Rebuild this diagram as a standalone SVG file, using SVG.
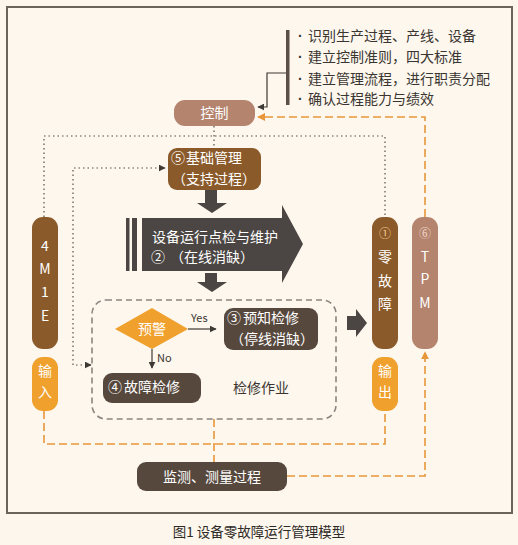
<svg xmlns="http://www.w3.org/2000/svg" width="518" height="545" viewBox="0 0 518 545">
<defs>
<style>
text{font-family:"Noto Sans CJK SC","Noto Sans",sans-serif;}
.w{fill:#ffffff;font-size:14px;}
.d{fill:#3a3530;font-size:14px;}
.bul{fill:#3a3530;font-size:14px;font-family:"Liberation Sans",Arial,sans-serif;font-weight:bold;}
.c{text-anchor:middle;}
.orng{fill:none;stroke:#e8963a;stroke-width:1.6;stroke-dasharray:8 4;}
.dot{fill:none;stroke:#555049;stroke-width:1.2;stroke-dasharray:1.5 3;}
.blk{fill:#4b4643;}
</style>
<marker id="ah" viewBox="0 0 10 10" refX="9" refY="5" markerWidth="7" markerHeight="7" orient="auto" markerUnits="userSpaceOnUse"><path d="M0,0 L10,5 L0,10 z" fill="#3d3935"/></marker>
<marker id="ao" viewBox="0 0 10 10" refX="9" refY="5" markerWidth="8" markerHeight="8" orient="auto" markerUnits="userSpaceOnUse"><path d="M0,0 L10,5 L0,10 z" fill="#e8963a"/></marker>
</defs>
<rect x="0" y="0" width="518" height="545" fill="#fcf6ec"/>
<rect x="7" y="7" width="505" height="506" fill="#fdf7ee" stroke="#6b645d" stroke-width="2"/>

<g id="connectors">
<polyline points="287,73 267,73 267,107 258,107" fill="none" stroke="#3d3935" stroke-width="1.2" marker-end="url(#ah)"/>
<polyline class="orng" points="425,217 425,117 258,117" marker-end="url(#ao)"/>
<line class="dot" x1="214" y1="126" x2="214" y2="148"/>
<polyline class="dot" points="44,217 44,136 385,136 385,217"/>
<polyline class="dot" points="91,365 73,365 73,168 165,168" marker-end="url(#ah)"/>
<line x1="73" y1="365" x2="91" y2="365" stroke="none" marker-end="url(#ah)"/>
<line x1="188" y1="329" x2="216" y2="329" stroke="#3d3935" stroke-width="1.2" marker-end="url(#ah)"/>
<line x1="152" y1="349" x2="152" y2="368" stroke="#3d3935" stroke-width="1.2" marker-end="url(#ah)"/>
<polyline class="orng" points="44,411 44,444 385,444 385,411"/>
<line class="orng" x1="214" y1="419" x2="214" y2="462"/>
<polyline class="orng" points="287,476 425,476 425,352" marker-end="url(#ao)"/>
<path class="blk" d="M205,190 H217 V203 H227 L212,213 L197,203 H205 Z"/>
<path class="blk" d="M205,273 H217 V282 H227 L212,292 L197,282 H205 Z"/>
<path class="blk" d="M347,316 H356 V309 L367,323 L356,337 V330 H347 Z"/>
<text x="191" y="322" fill="#3a3530" font-size="11">Yes</text>
<text x="157" y="362" fill="#3a3530" font-size="11">No</text>
</g>

<g id="list">
<rect x="286" y="30" width="3.5" height="75" fill="#5a5048"/>
<text class="bul" x="298" y="41">·</text>
<text class="d" x="308" y="41">识别生产过程、产线、设备</text>
<text class="bul" x="298" y="62">·</text>
<text class="d" x="308" y="62">建立控制准则，四大标准</text>
<text class="bul" x="298" y="84">·</text>
<text class="d" x="308" y="84">建立管理流程，进行职责分配</text>
<text class="bul" x="298" y="104">·</text>
<text class="d" x="308" y="104">确认过程能力与绩效</text>
</g>

<g id="control">
<rect x="174" y="100" width="81" height="26" rx="11" fill="#b4846e"/>
<text class="w c" x="214.5" y="118">控制</text>
</g>

<g id="basic">
<rect x="168" y="148" width="93" height="42" rx="9" fill="#8b5a2a"/>
<text class="w" x="171" y="163" font-size="12">⑤</text>
<text class="w" x="186" y="163">基础管理</text>
<text class="w" x="172" y="184">（支持过程）</text>
</g>

<g id="online">
<rect x="126" y="218" width="3.5" height="53" fill="#4b4643"/>
<rect x="132" y="218" width="5" height="53" fill="#4b4643"/>
<path d="M142,218 H282 V205 L303,244 L282,283 V271 H142 Z" fill="#4b4643"/>
<text class="w" x="152" y="242">设备运行点检与维护</text>
<text class="w" x="151" y="262" font-size="12">②</text>
<text class="w" x="170" y="262">（在线消缺）</text>
</g>

<g id="work">
<rect x="92" y="300" width="244" height="119" rx="14" fill="none" stroke="#8a8580" stroke-width="1.6" stroke-dasharray="6 4"/>
<text class="d" x="233" y="393">检修作业</text>
</g>

<g id="warn">
<polygon points="115,329 152,308 188,329 152,349" fill="#f0a02c"/>
<text class="w c" x="152" y="334">预警</text>
</g>

<g id="predict">
<rect x="224" y="308" width="94" height="42" rx="9" fill="#57483d"/>
<text class="w" x="227" y="323" font-size="12">③</text>
<text class="w" x="243" y="323">预知检修</text>
<text class="w" x="230" y="344">（停线消缺）</text>
</g>

<g id="fault">
<rect x="103" y="373" width="98" height="30" rx="9" fill="#57483d"/>
<text class="w" x="108" y="392" font-size="12">④</text>
<text class="w" x="124" y="392">故障检修</text>
</g>

<g id="m4e">
<rect x="32" y="217" width="26" height="132" rx="11" fill="#8b5a2a"/>
<text class="w c" font-size="13"><tspan x="45" y="251">4</tspan><tspan x="45" y="274">M</tspan><tspan x="45" y="297">1</tspan><tspan x="45" y="321">E</tspan></text>
</g>

<g id="input">
<rect x="32" y="357" width="26" height="54" rx="11" fill="#f0a02c"/>
<text class="w c" font-size="13"><tspan x="45" y="376">输</tspan><tspan x="45" y="397">入</tspan></text>
</g>

<g id="zero">
<rect x="372" y="217" width="26" height="132" rx="11" fill="#8b5a2a"/>
<text class="c" fill="#f3c88a" font-size="12" x="385" y="238">①</text>
<text class="w c" font-size="13"><tspan x="385" y="262">零</tspan><tspan x="385" y="286">故</tspan><tspan x="385" y="309">障</tspan></text>
</g>

<g id="output">
<rect x="372" y="357" width="26" height="54" rx="11" fill="#f0a02c"/>
<text class="w c" font-size="13"><tspan x="385" y="376">输</tspan><tspan x="385" y="397">出</tspan></text>
</g>

<g id="tpm">
<rect x="412" y="217" width="26" height="132" rx="11" fill="#b4846e"/>
<text class="c" fill="#f1d6c8" font-size="12" x="425" y="238">⑥</text>
<text class="w c" font-size="13"><tspan x="425" y="262">T</tspan><tspan x="425" y="284">P</tspan><tspan x="425" y="308">M</tspan></text>
</g>

<g id="monitor">
<rect x="137" y="462" width="150" height="29" rx="9" fill="#57483d"/>
<text class="w c" x="212" y="482">监测、测量过程</text>
</g>

<text x="259" y="537" class="c" fill="#2e2a27" font-size="13.5">图1 设备零故障运行管理模型</text>
</svg>
